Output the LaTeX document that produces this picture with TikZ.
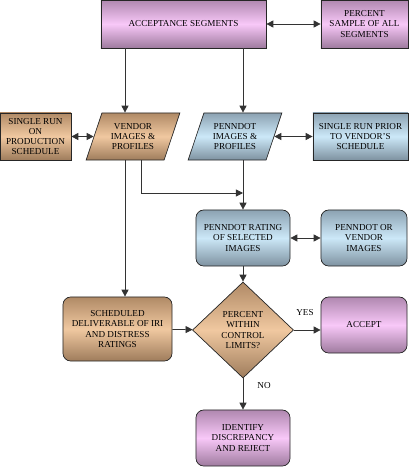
\documentclass[tikz,border=0pt]{standalone}
\usepackage{fontspec}
\setmainfont{Liberation Serif}
\usetikzlibrary{shapes.geometric,arrows.meta}
\definecolor{plmid}{HTML}{F8C8F8}
\definecolor{pledge}{HTML}{B088B0}
\definecolor{tnmid}{HTML}{F0C8A0}
\definecolor{tnedge}{HTML}{B08A66}
\definecolor{blmid}{HTML}{CCE8F8}
\definecolor{bledge}{HTML}{8CA2B2}
\tikzset{
  box/.style={draw=black!85, line width=0.5pt, align=center, inner sep=1pt,
    font=\fontsize{6.5}{7.3}\selectfont},
  pinkbox/.style={box, top color=pledge, bottom color=pledge!90!black, middle color=plmid},
  tanbox/.style={box, top color=tnedge, bottom color=tnedge!90!black, middle color=tnmid},
  bluebox/.style={box, top color=bledge, bottom color=bledge!90!black, middle color=blmid},
  soft/.style={rounded corners=5.5pt},
  slant/.style={trapezium, trapezium left angle=68, trapezium right angle=112,
    trapezium stretches=true, minimum width=2.35cm, minimum height=1.175cm},
  arr/.style={draw=black!80, line width=0.6pt, -{Triangle[length=5pt,width=5pt]}},
  darr/.style={draw=black!80, line width=0.6pt,
    {Triangle[length=5pt,width=5pt]}-{Triangle[length=5pt,width=5pt]}},
  tag/.style={font=\fontsize{6.5}{7.3}\selectfont}
}
\begin{document}
\begin{tikzpicture}[x=0.025cm, y=-0.025cm]
  \useasboundingbox (0,0) rectangle (408,467);
  % top row
  \node[pinkbox, minimum width=4.125cm, minimum height=1.2cm] (acc) at (183.5,24) {ACCEPTANCE SEGMENTS};
  \node[pinkbox, minimum width=2.175cm, minimum height=1.2cm] (pct) at (364.5,24) {PERCENT\\SAMPLE OF ALL\\SEGMENTS};
  % image row
  \node[tanbox, minimum width=1.775cm, minimum height=1.175cm] (runprod) at (35.5,136.5) {SINGLE RUN\\ON\\PRODUCTION\\SCHEDULE};
  \node[tanbox, slant] (vendor) at (133,136.5) {VENDOR\\IMAGES \&\\PROFILES};
  \node[bluebox, slant] (pen) at (235,136.5) {PENNDOT\\IMAGES \&\\PROFILES};
  \node[bluebox, minimum width=2.375cm, minimum height=1.175cm] (runprior) at (360.5,136.5) {SINGLE RUN PRIOR\\TO VENDOR'S\\SCHEDULE};
  % rating row
  \node[bluebox, soft, minimum width=2.35cm, minimum height=1.4cm] (rating) at (243,238) {PENNDOT RATING\\OF SELECTED\\IMAGES};
  \node[bluebox, soft, minimum width=2.15cm, minimum height=1.4cm] (pov) at (364,238) {PENNDOT OR\\VENDOR\\IMAGES};
  % decision row
  \node[tanbox, soft, minimum width=2.725cm, minimum height=1.6cm] (sched) at (117.5,329) {SCHEDULED\\DELIVERABLE OF IRI\\AND DISTRESS\\RATINGS};
  \node[tanbox, diamond, inner sep=0pt, minimum width=2.525cm, minimum height=2.4cm] (limits) at (243,330) {PERCENT\\WITHIN\\CONTROL\\LIMITS?};
  \node[pinkbox, soft, minimum width=2.15cm, minimum height=1.4cm] (accept) at (364,325) {ACCEPT};
  \node[pinkbox, soft, minimum width=2.35cm, minimum height=1.4cm] (reject) at (243,438) {IDENTIFY\\DISCREPANCY\\AND REJECT};
  % helper points
  \coordinate (vx) at (125,0);
  \coordinate (jx) at (141,0);
  \coordinate (px) at (243,0);
  \coordinate (jn) at (243,193);
  % connectors
  \draw[darr] (acc) -- (pct);
  \draw[darr] (runprod) -- (vendor);
  \draw[darr] (pen) -- (runprior);
  \draw[darr] (rating) -- (pov);
  \draw[arr] (acc.south -| vx) -- (vendor.north -| vx);
  \draw[arr] (acc.south -| px) -- (pen.north -| px);
  \draw[arr] (vendor.south -| vx) -- (sched.north -| vx);
  \draw[arr] (vendor.south -| jx) |- (jn);
  \draw[arr] (pen.south -| px) -- (rating.north);
  \draw[arr] (rating) -- (limits);
  \draw[arr] (sched) -- (limits);
  \draw[arr] (limits.east) -- (accept.west |- limits.east);
  \draw[arr] (limits) -- (reject);
  \node[tag] at (305,313) {YES};
  \node[tag] at (264,386) {NO};
\end{tikzpicture}
\end{document}
